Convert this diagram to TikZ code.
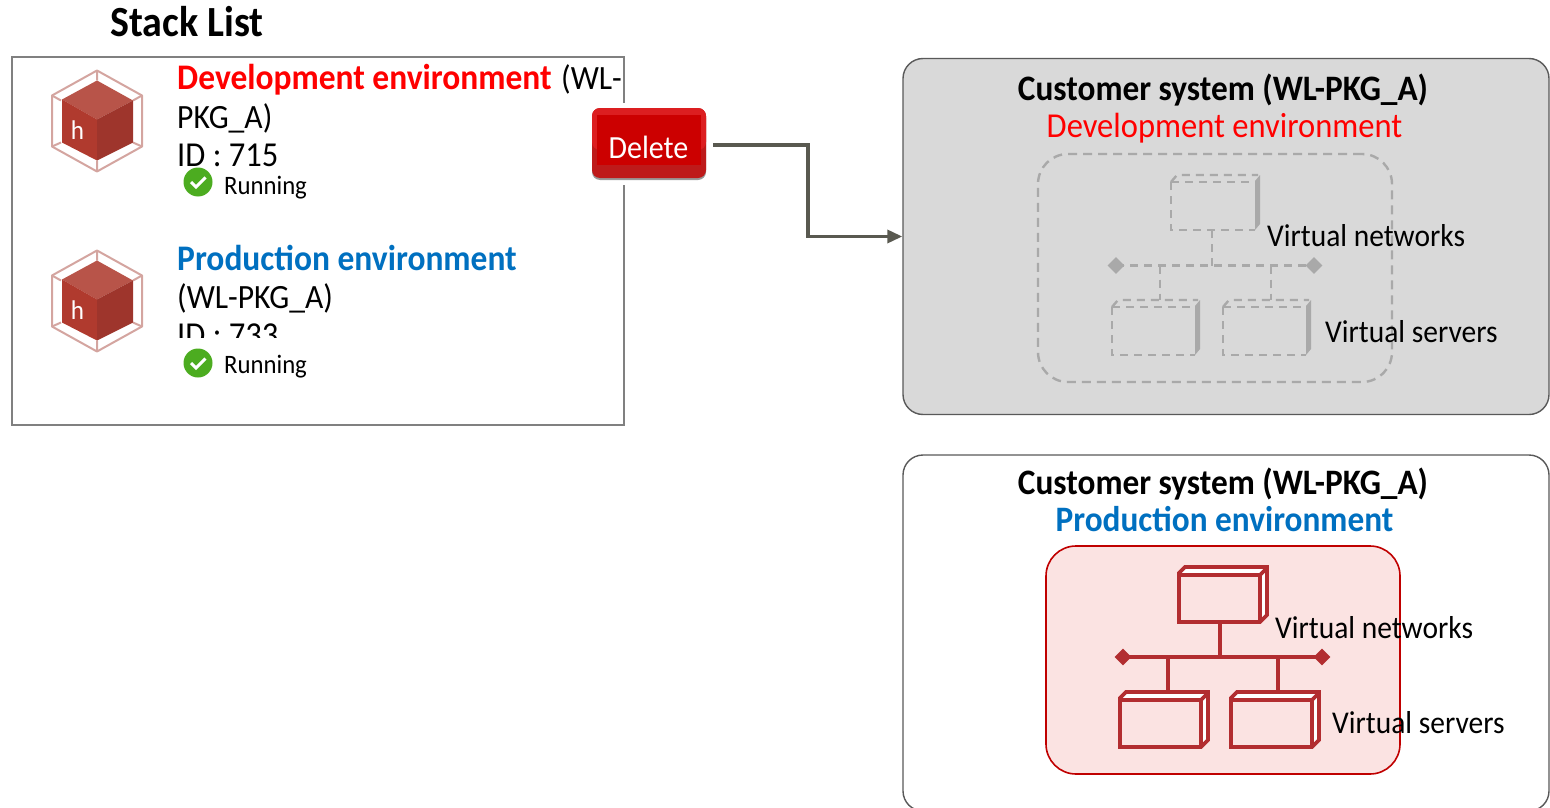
\documentclass[tikz,border=0pt]{standalone}
\usepackage{fontspec}
\setmainfont[FakeStretch=0.93]{Carlito}
\usetikzlibrary{arrows.meta,shapes.geometric}
\definecolor{redtxt}{HTML}{FF0000}
\definecolor{bluetxt}{HTML}{0070C0}
\definecolor{netred}{HTML}{B22D30}
\definecolor{netgrey}{HTML}{A9A9A9}
\definecolor{hexc}{RGB}{212,165,160}
\definecolor{cubetop}{RGB}{184,84,73}
\definecolor{cubeleft}{RGB}{176,58,46}
\definecolor{cuberight}{RGB}{158,53,44}
\definecolor{okgreen}{RGB}{76,172,32}
\definecolor{pinkbg}{RGB}{251,227,226}
\definecolor{groupred}{RGB}{192,0,0}
\definecolor{btnlow}{RGB}{190,26,26}
\definecolor{btnhigh}{RGB}{220,30,32}
\definecolor{btnmid}{RGB}{204,0,0}
\definecolor{arrowc}{RGB}{89,89,80}
\definecolor{panelgrey}{RGB}{217,217,217}
\newcommand{\fs}[1]{\fontsize{#1}{#1}\selectfont}
\tikzset{
 x=1pt,y=-1pt,
 txt/.style={anchor=base west,inner sep=0pt,text=black,font=\fs{34}},
 txtb/.style={txt,font=\fs{36}\bfseries},
 ctr/.style={anchor=base,inner sep=0pt,text=black,font=\fs{35}},
 ctrb/.style={ctr,font=\fs{35.8}\bfseries},
 small/.style={txt,font=\fs{26.6}},
 lab/.style={txt,font=\fs{31.7}},
 panel/.style={rectangle,rounded corners=20pt,draw=black!65,line width=1.4pt,inner sep=0pt},
 redline/.style={draw=netred,line width=3.6pt,line join=miter},
 greyline/.style={draw=netgrey,line width=2.4pt,dash pattern=on 8pt off 6pt},
 conn/.style={draw=arrowc,line width=3.4pt,-{Triangle[length=15pt,width=13pt]}},
 tip/.style={diamond,minimum size=17pt,inner sep=0pt},
}
% cube icon
\newcommand{\cubeicon}[3]{%
 \begin{scope}[shift={(#1,#2)}]
  \draw[hexc,line width=2pt,line join=round]
   (0,-50)--(45,-25)--(45,26)--(0,51)--(-45,26)--(-45,-25)--cycle;
  \draw[hexc,line width=2pt]
   (0,-50)--(0,-40) (45,-25)--(36,-20) (-45,-25)--(-36,-20) (0,51)--(0,40) (45,26)--(36,22) (-45,26)--(-36,22);
  \fill[cubetop] (0,-40)--(36,-20)--(0,-1)--(-35,-21)--cycle;
  \fill[cubeleft] (-35,-21)--(0,-1)--(0,40)--(-35,22)--cycle;
  \fill[cuberight] (36,-20)--(0,-1)--(0,40)--(36,22)--cycle;
  \node[anchor=base,inner sep=0pt,text=white,font=\fs{27}] (#3) at (-19.5,19) {h};
 \end{scope}}
% check badge
\newcommand{\okbadge}[3]{%
 \node[circle,fill=okgreen,minimum size=29pt,inner sep=0pt] (#3) at (#1,#2) {};
 \draw[white,line width=3pt] ({#1-7},#2) -- ({#1-2},{#2+5}) -- ({#1+7.5},{#2-4.5});}
% network box; #1 name #2 x0 #3 y0 #4 x1 #5 y1
\newcommand{\redbox}[5]{%
 \draw[redline,fill=white] (#2,{#3+6})--({#2+6},#3)--(#4,#3)--(#4,{#5-7})--({#4-7},#5)--(#2,#5)--cycle;
 \fill[pinkbg] ({#2+2},{#3+9}) rectangle ({#4-9},{#5-2});
 \draw[redline] (#2,{#3+8})--({#4-7},{#3+8})--({#4-7},#5) ({#4-7},{#3+8})--(#4,{#3+1});
 \coordinate (#1) at ({(#2+#4-7)/2},#3);}
\newcommand{\greybox}[5]{%
 \fill[netgrey] ({#4-5},{#3+6})--(#4,#3)--(#4,{#5-6})--({#4-5},#5)--cycle;
 \draw[greyline] (#2,{#3+7})--({#2+6},#3)--({#4-2},#3);
 \draw[greyline] (#2,{#3+7})--({#4-5},{#3+7}) (#2,{#3+7})--(#2,#5)--({#4-5},#5);
 \coordinate (#1) at ({(#2+#4-5)/2},#3);}
\begin{document}
\begin{tikzpicture}
\useasboundingbox (0,0) rectangle (1550,808);
\node[txtb,font=\fs{43}\bfseries] (title) at (110,37) {Stack List};
% list frame
\node[rectangle,draw=black!50,line width=1.5pt,minimum width=612pt,minimum height=368pt,inner sep=0pt] (frame) at (318,241) {};
\fill[white] (619,103) rectangle (630,185);
\cubeicon{97}{120.5}{h1}
\cubeicon{97}{300.5}{h2}
\node[txtb,text=redtxt] (dev) at (177,89) {Development environment};
\node[txt] (wl1) at (561,89) {(WL-};
\node[txt] (pkg1) at (177,128) {PKG\_A)};
\node[txt,font=\fs{35}] (id1) at (177,166) {ID : 715};
\okbadge{198}{182}{ok1}
\node[small] (run1) at (224,194) {Running};
\node[txtb,text=bluetxt] (prod) at (177,270) {Production environment};
\node[txt] (wl2) at (177,308) {(WL-PKG\_A)};
\begin{scope}
 \clip (170,300) rectangle (500,337);
 \node[txt,font=\fs{35}] (id2) at (177,346) {ID : 733};
\end{scope}
\okbadge{198}{363}{ok2}
\node[small] (run2) at (224,373) {Running};
% delete button
\fill[black!40,rounded corners=8pt] (592,110) rectangle (706,180);
\fill[btnlow,rounded corners=8pt] (592,108) rectangle (706,178);
\fill[btnhigh,rounded corners=8pt] (592,108) rectangle (706,150);
\node[rectangle,fill=btnmid,minimum width=104pt,minimum height=50pt,inner sep=0pt] (del) at (649,140) {};
\node[anchor=base,inner sep=0pt,text=white,font=\fs{32.3}] (deltext) at (648.5,158) {Delete};
% customer panels
\node[panel,fill=panelgrey,minimum width=646pt,minimum height=356pt] (c1) at (1226,236.5) {};
\begin{scope}
 \clip (0,0) rectangle (1550,808);
 \node[panel,fill=white,minimum width=646pt,minimum height=356pt] (c2) at (1226,633) {};
\end{scope}
\coordinate (delout) at (713,145);
\draw[conn] (delout) -- (808,145) |- (c1.west);
\node[ctrb] (c1t) at (1223,100) {Customer system (WL-PKG\_A)};
\node[ctr,text=redtxt] (c1e) at (1224.5,137) {Development environment};
\node[ctrb] (c2t) at (1223,494) {Customer system (WL-PKG\_A)};
\node[ctrb,text=bluetxt] (c2e) at (1224.5,531) {Production environment};
% grey group
\node[rectangle,rounded corners=30pt,draw=netgrey,line width=2.4pt,dash pattern=on 9pt off 6pt,minimum width=354pt,minimum height=228pt,inner sep=0pt] (g1) at (1215,268) {};
\greybox{gt}{1171}{175}{1260}{230}
\greybox{gl}{1112}{300}{1200}{355}
\greybox{gr}{1223}{300}{1311}{355}
\node[tip,fill=netgrey] (gbl) at (1116,265.5) {};
\node[tip,fill=netgrey] (gbr) at (1314,265.5) {};
\coordinate (gtb) at (1212,230);
\coordinate (gbt) at (1212,265.5);
\coordinate (gb1) at (1160,265.5);
\coordinate (gb2) at (1271,265.5);
\draw[greyline] (gbl.center) -- (gbr.center);
\draw[greyline] (gtb) -- (gbt);
\draw[greyline] (gb1) -- (gb1 |- gl);
\draw[greyline] (gb2) -- (gb2 |- gr);
\node[lab] (gv1) at (1267,246) {Virtual networks};
\node[lab] (gv2) at (1325,342) {Virtual servers};
% red group
\node[rectangle,rounded corners=30pt,draw=groupred,fill=pinkbg,line width=1.6pt,minimum width=354pt,minimum height=228pt,inner sep=0pt] (g2) at (1223,660) {};
\redbox{rt}{1179}{567}{1267}{622}
\redbox{rl}{1120}{692}{1208}{747}
\redbox{rr}{1231}{692}{1319}{747}
\node[tip,fill=netred] (rbl) at (1123,657) {};
\node[tip,fill=netred] (rbr) at (1322,657) {};
\coordinate (rtb) at (1220,622);
\coordinate (rbt) at (1220,657);
\coordinate (rb1) at (1168,657);
\coordinate (rb2) at (1278,657);
\draw[redline] (rbl.center) -- (rbr.center);
\draw[redline] (rtb) -- (rbt);
\draw[redline] (rb1) -- (rb1 |- rl);
\draw[redline] (rb2) -- (rb2 |- rr);
\node[lab] (rv1) at (1275,638) {Virtual networks};
\node[lab] (rv2) at (1332,733) {Virtual servers};
\end{tikzpicture}
\end{document}
